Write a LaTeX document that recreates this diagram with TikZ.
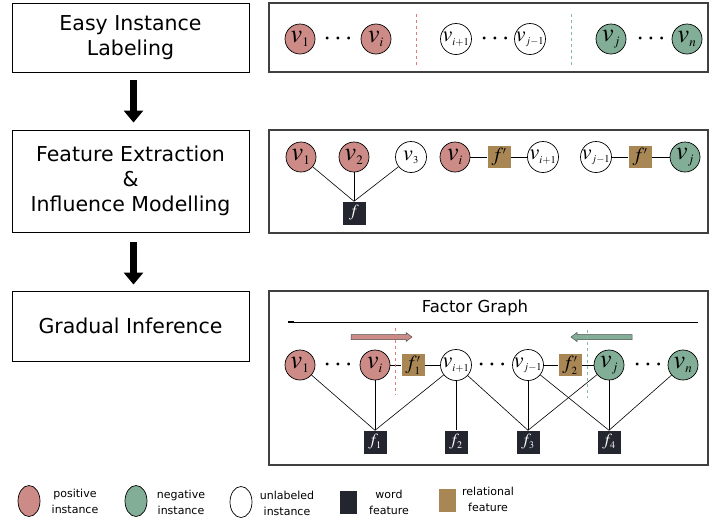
\documentclass[tikz,border=0pt]{standalone}
\usepackage{mathptmx}
\usepackage[no-math]{fontspec}
\setmainfont{DejaVu Sans}
\DeclareMathSizes{26}{26}{13}{10}
\DeclareMathSizes{22}{22}{10.5}{8}
\DeclareMathSizes{17}{17}{10}{8}
\DeclareMathSizes{20}{20}{11}{8}
\usetikzlibrary{arrows.meta,shapes.geometric,calc}
\definecolor{pos}{HTML}{CC8B86}
\definecolor{neg}{HTML}{82AE98}
\definecolor{wordc}{HTML}{23262F}
\definecolor{relc}{HTML}{A88755}
\definecolor{reddash}{HTML}{E07A74}
\definecolor{greendash}{HTML}{86B8A6}
\newcommand\nolab[1]{\makebox[0pt]{#1}}
\begin{document}
\begin{tikzpicture}[x=1pt,y=-1pt,
  stage/.style={draw, line width=0.9pt, minimum width=237pt, align=center, inner sep=0pt, font=\fontsize{20.5}{25}\selectfont},
  panel/.style={draw=black!75, line width=1.2pt},
  vnode/.style={circle, draw, line width=0.7pt, minimum size=30pt, inner sep=0pt, font=\fontsize{26}{26}\selectfont},
  posn/.style={vnode, fill=pos},
  negn/.style={vnode, fill=neg},
  unln/.style={vnode, fill=white, minimum size=31pt, font=\fontsize{22}{22}\selectfont},
  dotsn/.style={inner sep=0pt, font=\fontsize{28}{28}\selectfont},
  wf/.style={fill=wordc, minimum width=23pt, minimum height=23pt, inner sep=0pt, text=white, font=\fontsize{17}{17}\selectfont},
  rf/.style={fill=relc, minimum width=23pt, minimum height=22pt, inner sep=0pt, font=\fontsize{20}{20}\selectfont},
  edge/.style={draw, line width=0.6pt},
  bigarrow/.style={line width=7pt, -{Triangle[width=19pt,length=12pt]}},
  legtext/.style={align=center, font=\fontsize{11}{16}\selectfont, inner sep=0pt},
  legell/.style={ellipse, draw, line width=0.7pt, minimum width=22pt, minimum height=31pt, inner sep=0pt},
  legsq/.style={minimum width=17pt, minimum height=23pt, inner sep=0pt}
]
\useasboundingbox (0,0) rectangle (711,523);

% left stages
\node[stage, minimum height=69pt] (b1) at (130.5,37.5) {Easy Instance\\Labeling};
\node[stage, minimum height=102pt] (b2) at (130.5,181) {Feature Extraction\\\&\\Influence Modelling};
\node[stage, minimum height=70pt] (b3) at (130.5,326) {Gradual Inference};
\draw[bigarrow, shorten <=8pt, shorten >=7pt] ([xshift=3pt]b1.south) -- ([xshift=3pt]b2.north);
\draw[bigarrow, shorten <=10pt, shorten >=6pt] ([xshift=3pt]b2.south) -- ([xshift=3pt]b3.north);

% panels
\draw[panel] (269,3) rectangle (708,72);
\draw[panel] (269,130) rectangle (708,233);
\draw[panel] (269,291) rectangle (708,465);

% panel 1
\node[posn] (p1) at (300,39) {\nolab{$v_1$}};
\node[dotsn] (p1d) at (338,39) {$\cdots$};
\node[posn] (pi) at (376,39) {\nolab{$v_i$}};
\node[unln] (pi1) at (456,39) {\nolab{$v_{i+1}$}};
\node[dotsn] (p2d) at (495,39) {$\cdots$};
\node[unln] (pj1) at (530,39) {\nolab{$v_{j-1}$}};
\node[negn] (pj) at (611,39) {\nolab{$v_j$}};
\node[dotsn] (p3d) at (651,39) {$\cdots$};
\node[negn] (pn) at (687,39) {\nolab{$v_n$}};
\draw[reddash, dashed, line width=0.5pt] (416,14) -- (416,66);
\draw[greendash, dashed, line width=0.5pt] (571,14) -- (571,66);

% panel 2
\node[posn] (a1) at (301,157) {\nolab{$v_1$}};
\node[posn] (a2) at (354,157) {\nolab{$v_2$}};
\node[unln] (a3) at (411,157) {\nolab{$v_3$}};
\node[wf] (f) at (354,213) {$f$};
\draw[edge] (a1) -- (f.north);
\draw[edge] (a2) -- (f.north);
\draw[edge] (a3) -- (f.north);
\node[posn] (ai) at (455,157) {\nolab{$v_i$}};
\node[rf] (fp1) at (499,157) {$f'$};
\node[unln] (ai1) at (543,157) {\nolab{$v_{i+1}$}};
\draw[edge] (ai) -- (fp1) -- (ai1);
\node[unln] (aj1) at (596,157) {\nolab{$v_{j-1}$}};
\node[rf] (fp2) at (640,157) {$f'$};
\node[negn] (aj) at (685,157) {\nolab{$v_j$}};
\draw[edge] (aj1) -- (fp2) -- (aj);

% panel 3
\node[font=\fontsize{16.5}{16.5}\selectfont] (fg) at (475,308) {Factor Graph};
\draw[line width=0.8pt] (288,322) -- (698,322);
\draw[line width=2.5pt] (288,322) -- (294,322);
\draw[fill=pos, draw=black!70, line width=0.5pt] (351,334.5) -- (406,334.5) -- (406,332.5) -- (412,337) -- (406,341.5) -- (406,339.5) -- (351,339.5) -- cycle;
\draw[fill=neg, draw=black!70, line width=0.5pt] (632,334.5) -- (577,334.5) -- (577,332.5) -- (571,337) -- (577,341.5) -- (577,339.5) -- (632,339.5) -- cycle;

\node[posn] (c1) at (300,365) {\nolab{$v_1$}};
\node[dotsn] (c1d) at (338,365) {$\cdots$};
\node[posn] (ci) at (375,365) {\nolab{$v_i$}};
\node[rf] (g1) at (413,365) {$f_1'$};
\node[unln] (ci1) at (456,365) {\nolab{$v_{i+1}$}};
\node[dotsn] (c2d) at (492,365) {$\cdots$};
\node[unln] (cj1) at (528,365) {\nolab{$v_{j-1}$}};
\node[rf] (g2) at (570,365) {$f_2'$};
\node[negn] (cj) at (609,365) {\nolab{$v_j$}};
\node[dotsn] (c3d) at (648,365) {$\cdots$};
\node[negn] (cn) at (683,365) {\nolab{$v_n$}};
\draw[edge] (ci) -- (g1) -- (ci1);
\draw[edge] (cj1) -- (g2) -- (cj);

\node[wf] (h1) at (375,442) {$f_1$};
\node[wf] (h2) at (456,442) {$f_2$};
\node[wf] (h3) at (528,442) {$f_3$};
\node[wf] (h4) at (609,442) {$f_4$};

\draw[edge] (c1) -- (h1.north);
\draw[edge] (ci) -- (h1.north);
\draw[edge] (ci1) -- (h1.north);
\draw[edge] (ci1) -- (h2.north);
\draw[edge] (ci1) -- (h3.north);
\draw[edge] (cj1) -- (h3.north);
\draw[edge] (cj1) -- (h4.north);
\draw[edge] (cj) -- (h3.north);
\draw[edge] (cj) -- (h4.north);
\draw[edge] (cn) -- (h4.north);

\draw[reddash, dashed, line width=0.5pt] (395,328) -- (395,395);
\draw[greendash, dashed, line width=0.5pt] (587,330) -- (587,398);

% legend
\node[legell, fill=pos] (l1) at (29,501) {};
\node[legtext] (l1t) at (75,501) {positive\\instance};
\node[legell, fill=neg] (l2) at (136,501) {};
\node[legtext] (l2t) at (181,502) {negative\\instance};
\node[legell, fill=white] (l3) at (241,502) {};
\node[legtext] (l3t) at (287,503) {unlabeled\\instance};
\node[legsq, fill=wordc] (l4) at (348,502) {};
\node[legtext] (l4t) at (389,502) {word\\feature};
\node[legsq, fill=relc] (l5) at (447,500) {};
\node[legtext] (l5t) at (488,499) {relational\\feature};
\end{tikzpicture}
\end{document}
